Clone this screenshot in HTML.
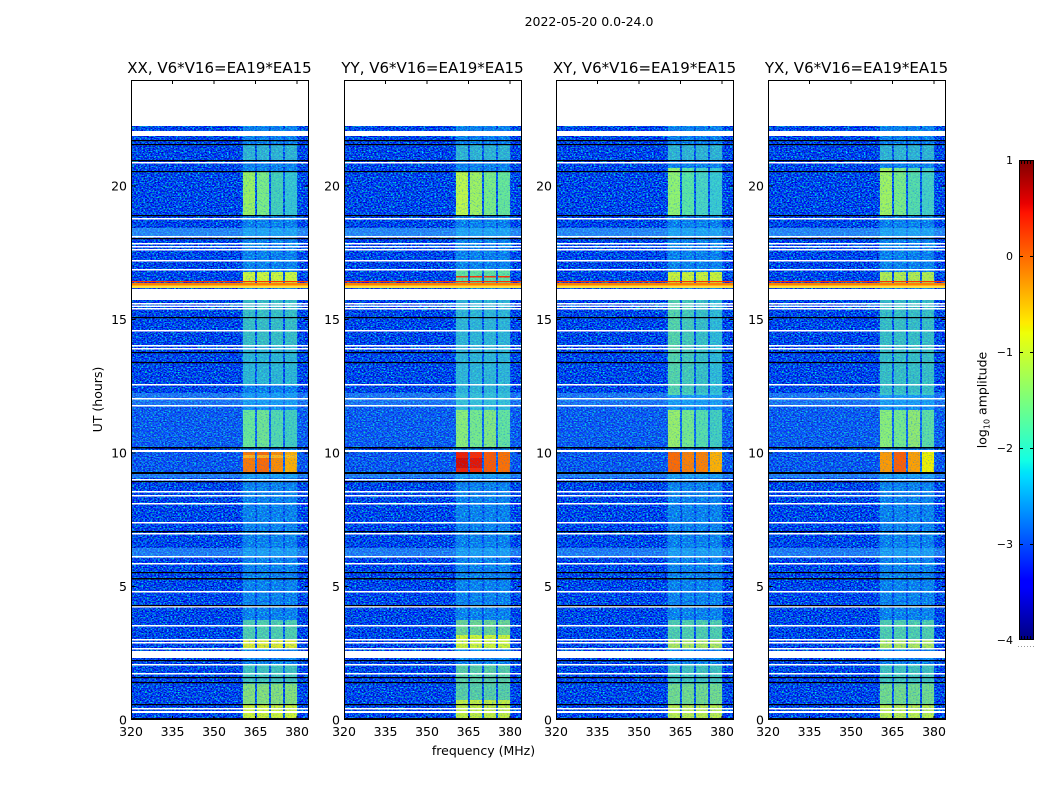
<!DOCTYPE html>
<html><head><meta charset="utf-8"><style>html,body{margin:0;padding:0;background:#fff;}svg{display:block;}</style></head>
<body>
<svg width="1050" height="800" viewBox="0 0 1050 800" xmlns="http://www.w3.org/2000/svg" xmlns:xlink="http://www.w3.org/1999/xlink" font-family="DejaVu Sans, Liberation Sans, sans-serif">
<defs>
<filter id="nz" x="0" y="0" width="1" height="1" color-interpolation-filters="sRGB">
<feTurbulence type="fractalNoise" baseFrequency="0.55 0.8" numOctaves="2" seed="7"/>
<feColorMatrix type="matrix" values="0 0 0 0 0  2.3 0 0 0 -0.88  0 1.5 0 0 0.2  0 0 0 0 1"/>
</filter>
<filter id="sp" x="0" y="0" width="1" height="1" color-interpolation-filters="sRGB">
<feTurbulence type="fractalNoise" baseFrequency="0.6 0.9" numOctaves="2" seed="19"/>
<feColorMatrix type="matrix" values="0 0 0 0 0  0 0 0 0 0.45  0 0 0 0 1  2.0 0 0 0 -1.05"/>
</filter>
<linearGradient id="jet" x1="0" y1="1" x2="0" y2="0">
<stop offset="0" stop-color="#00007f"/>
<stop offset="0.11" stop-color="#0000ff"/>
<stop offset="0.125" stop-color="#0000ff"/>
<stop offset="0.34" stop-color="#00dbff"/>
<stop offset="0.35" stop-color="#00e5f8"/>
<stop offset="0.375" stop-color="#14ffe3"/>
<stop offset="0.64" stop-color="#efff08"/>
<stop offset="0.65" stop-color="#f2f500"/>
<stop offset="0.66" stop-color="#ffec00"/>
<stop offset="0.89" stop-color="#ff1300"/>
<stop offset="0.91" stop-color="#e80000"/>
<stop offset="1" stop-color="#7f0000"/>
</linearGradient>
<g id="c4"><rect x="112" y="0" width="12" height="1"/><rect x="126" y="0" width="12" height="1"/><rect x="140" y="0" width="12" height="1"/><rect x="154" y="0" width="12" height="1"/></g>
<g id="base">
<rect x="1" y="126" width="176" height="594" fill="#0050ff" filter="url(#nz)"/>
<rect x="1" y="406" width="176" height="41" fill="#30a0ff" opacity=".25"/>
<rect x="1" y="452" width="176" height="20" fill="#30a0ff" opacity=".2"/>
<rect x="1" y="228" width="176" height="8" fill="#40b0ff" opacity=".6"/>
<rect x="1" y="393" width="176" height="12" fill="#40b0ff" opacity=".45"/>
<rect x="1" y="474" width="176" height="4" fill="#40b0ff" opacity=".5"/>
<rect x="1" y="548" width="176" height="8" fill="#40b0ff" opacity=".5"/>
<rect x="111" y="126" width="56" height="594" fill="#20b0ff" opacity=".15"/>
<use xlink:href="#c4" transform="translate(0,126) scale(1,594)" fill="#20e8f0" opacity=".3"/>
</g>
<g id="speck">
<rect x="111" y="126" width="56" height="594" fill="#000" filter="url(#sp)"/>
</g>
<g id="rows">
<g fill="#fff">
<rect x="1" y="131" width="176" height="5"/><rect x="1" y="162" width="176" height="1.5"/><rect x="1" y="218" width="176" height="1.5"/><rect x="1" y="236" width="176" height="1.5"/><rect x="1" y="243" width="176" height="1.5"/><rect x="1" y="246" width="176" height="1.5"/><rect x="1" y="249" width="176" height="1.5"/><rect x="1" y="260" width="176" height="1.5"/><rect x="1" y="269" width="176" height="1.5"/><rect x="1" y="289" width="176" height="11"/><rect x="1" y="303" width="176" height="1.5"/><rect x="1" y="305.5" width="176" height="1.5"/><rect x="1" y="308" width="176" height="1.5"/><rect x="1" y="330" width="176" height="1.5"/><rect x="1" y="345" width="176" height="1.5"/><rect x="1" y="348" width="176" height="1.5"/><rect x="1" y="384" width="176" height="1.5"/><rect x="1" y="398" width="176" height="1.5"/><rect x="1" y="405" width="176" height="1.5"/><rect x="1" y="450" width="176" height="2"/><rect x="1" y="479" width="176" height="1.5"/><rect x="1" y="491" width="176" height="1.5"/><rect x="1" y="495" width="176" height="1.5"/><rect x="1" y="503" width="176" height="1.5"/><rect x="1" y="522" width="176" height="1.5"/><rect x="1" y="533" width="176" height="1.5"/><rect x="1" y="556" width="176" height="1.5"/><rect x="1" y="563" width="176" height="1.5"/><rect x="1" y="591" width="176" height="1.5"/><rect x="1" y="606" width="176" height="1.5"/><rect x="1" y="625" width="176" height="1.5"/><rect x="1" y="639" width="176" height="1.5"/><rect x="1" y="642" width="176" height="1.5"/><rect x="1" y="648" width="176" height="1.5"/><rect x="1" y="651" width="176" height="7"/><rect x="1" y="664" width="176" height="1.5"/><rect x="1" y="673" width="176" height="1.5"/><rect x="1" y="708" width="176" height="1.5"/><rect x="1" y="711" width="176" height="2"/>
</g>
<g fill="#000">
<rect x="1" y="140" width="176" height="1.2"/><rect x="1" y="144" width="176" height="1.2"/><rect x="1" y="160" width="176" height="1.2"/><rect x="1" y="171" width="176" height="1.2"/><rect x="1" y="215" width="176" height="1.2"/><rect x="1" y="238" width="176" height="1.2"/><rect x="1" y="317" width="176" height="1.2"/><rect x="1" y="352" width="176" height="1.2"/><rect x="1" y="362" width="176" height="1.2"/><rect x="1" y="447" width="176" height="1.5"/><rect x="1" y="472" width="176" height="2"/><rect x="1" y="481" width="176" height="1.2"/><rect x="1" y="531" width="176" height="1.2"/><rect x="1" y="572" width="176" height="1.2"/><rect x="1" y="578" width="176" height="1.5"/><rect x="1" y="605" width="176" height="1.2"/><rect x="1" y="660" width="176" height="1.2"/><rect x="1" y="677" width="176" height="1.2"/><rect x="1" y="682" width="176" height="1.2"/><rect x="1" y="704" width="176" height="1.2"/><rect x="1" y="718" width="176" height="1.2"/>
</g>
<rect x="1" y="281" width="176" height="1.2" fill="#ff3000"/>
<rect x="1" y="283" width="176" height="2.5" fill="#ff8000"/>
<rect x="1" y="285.5" width="176" height="2.5" fill="#ffe040"/>
</g>
<g id="frame" fill="none" stroke="#000" stroke-width="1">
<rect x="0.5" y="80.5" width="177" height="639"/>
<path d="M0.5 186h4M0.5 319.5h4M0.5 453h4M0.5 586.5h4M173.5 186h4M173.5 319.5h4M173.5 453h4M173.5 586.5h4M41.5 720v-4M83 720v-4M124.5 720v-4M166 720v-4M41.5 80v4M83 80v4M124.5 80v4M166 80v4"/>
</g>
<g id="xl" font-size="12.5" text-anchor="middle" fill="#000">
<text x="0" y="736">320</text><text x="41.5" y="736">335</text><text x="83" y="736">350</text><text x="124.5" y="736">365</text><text x="166" y="736">380</text>
</g>
<g id="yl" font-size="12.5" text-anchor="end" fill="#000">
<text x="-4" y="190.5">20</text><text x="-4" y="324">15</text><text x="-4" y="457.5">10</text><text x="-4" y="591">5</text><text x="-4" y="724.5">0</text>
</g>
</defs>

<text x="589" y="26" font-size="12.5" text-anchor="middle">2022-05-20 0.0-24.0</text>

<!-- Panel 1 XX -->
<g transform="translate(131,0)">
<use xlink:href="#base"/>
<use xlink:href="#c4" transform="translate(0,145) scale(1,15)" fill="#60f0b0" opacity=".45"/>
<rect x="112" y="172" width="12" height="43" fill="#a8ff50" opacity=".9"/>
<rect x="126" y="172" width="12" height="43" fill="#90ff70" opacity=".85"/>
<rect x="140" y="172" width="12" height="43" fill="#60f0a0" opacity=".7"/>
<rect x="154" y="172" width="12" height="43" fill="#50e8c0" opacity=".65"/>
<use xlink:href="#c4" transform="translate(0,272) scale(1,11)" fill="#d8ff30" opacity=".95"/>
<use xlink:href="#c4" transform="translate(0,300) scale(1,45)" fill="#60f0a0" opacity=".55"/>
<use xlink:href="#c4" transform="translate(0,345) scale(1,40)" fill="#50e8b8" opacity=".5"/>
<rect x="112" y="410" width="12" height="37" fill="#80ff80" opacity=".8"/>
<rect x="126" y="410" width="12" height="37" fill="#90ff70" opacity=".75"/>
<rect x="140" y="410" width="12" height="37" fill="#70f890" opacity=".7"/>
<rect x="154" y="410" width="12" height="37" fill="#60f0a0" opacity=".65"/>
<rect x="112" y="452" width="12" height="20" fill="#ff7a00"/>
<rect x="126" y="452" width="12" height="20" fill="#ff6a00"/>
<rect x="140" y="452" width="12" height="20" fill="#ff8c00"/>
<rect x="154" y="452" width="12" height="20" fill="#ffae00"/>
<use xlink:href="#c4" transform="translate(0,455) scale(1,3)" fill="#ffc020" opacity=".8"/>
<use xlink:href="#c4" transform="translate(0,620) scale(1,20)" fill="#80ff80" opacity=".6"/>
<use xlink:href="#c4" transform="translate(0,640) scale(1,8)" fill="#e8f020" opacity=".95"/>
<use xlink:href="#c4" transform="translate(0,664) scale(1,20)" fill="#70f890" opacity=".55"/>
<use xlink:href="#c4" transform="translate(0,684) scale(1,20)" fill="#b0ff50" opacity=".75"/>
<use xlink:href="#c4" transform="translate(0,705) scale(1,13)" fill="#e0ff20" opacity=".9"/>
<use xlink:href="#speck"/>
<use xlink:href="#rows"/>
<use xlink:href="#frame"/>
<use xlink:href="#xl"/>
<use xlink:href="#yl"/>
<text x="88.5" y="73" font-size="15" text-anchor="middle">XX, V6*V16=EA19*EA15</text>
</g>

<!-- Panel 2 YY -->
<g transform="translate(344,0)">
<use xlink:href="#base"/>
<use xlink:href="#c4" transform="translate(0,145) scale(1,15)" fill="#60f0b0" opacity=".45"/>
<rect x="112" y="172" width="12" height="43" fill="#c8ff40" opacity=".95"/>
<rect x="126" y="172" width="12" height="43" fill="#b0ff50" opacity=".9"/>
<rect x="140" y="172" width="12" height="43" fill="#90ff70" opacity=".85"/>
<rect x="154" y="172" width="12" height="43" fill="#80ff80" opacity=".8"/>
<use xlink:href="#c4" transform="translate(0,270) scale(1,13)" fill="#80ff80" opacity=".75"/>
<use xlink:href="#c4" transform="translate(0,276) scale(1,1.5)" fill="#ff3000"/>
<use xlink:href="#c4" transform="translate(0,300) scale(1,110)" fill="#50e0c0" opacity=".55"/>
<rect x="112" y="410" width="12" height="37" fill="#a0ff60" opacity=".85"/>
<rect x="126" y="410" width="12" height="37" fill="#90ff70" opacity=".8"/>
<rect x="140" y="410" width="12" height="37" fill="#a0ff60" opacity=".8"/>
<rect x="154" y="410" width="12" height="37" fill="#80ff80" opacity=".75"/>
<rect x="112" y="452" width="12" height="20" fill="#f02000"/>
<rect x="126" y="452" width="12" height="20" fill="#ff2a00"/>
<rect x="140" y="452" width="12" height="20" fill="#ff5a00"/>
<rect x="154" y="452" width="12" height="20" fill="#ff7000"/>
<rect x="112" y="458" width="12" height="10" fill="#c00000" opacity=".6"/>
<rect x="126" y="458" width="12" height="10" fill="#d00000" opacity=".5"/>
<use xlink:href="#c4" transform="translate(0,620) scale(1,15)" fill="#a0ff60" opacity=".65"/>
<use xlink:href="#c4" transform="translate(0,635) scale(1,13)" fill="#e0ff20" opacity=".9"/>
<use xlink:href="#c4" transform="translate(0,664) scale(1,36)" fill="#90ff70" opacity=".6"/>
<use xlink:href="#c4" transform="translate(0,700) scale(1,18)" fill="#e0ff20" opacity=".85"/>
<use xlink:href="#speck"/>
<use xlink:href="#rows"/>
<use xlink:href="#frame"/>
<use xlink:href="#xl"/>
<use xlink:href="#yl"/>
<text x="88.5" y="73" font-size="15" text-anchor="middle">YY, V6*V16=EA19*EA15</text>
</g>

<!-- Panel 3 XY -->
<g transform="translate(556,0)">
<use xlink:href="#base"/>
<use xlink:href="#c4" transform="translate(0,145) scale(1,15)" fill="#60f0b0" opacity=".45"/>
<rect x="112" y="168" width="12" height="47" fill="#a0ff60" opacity=".9"/>
<rect x="126" y="168" width="12" height="47" fill="#70ff90" opacity=".8"/>
<rect x="140" y="168" width="12" height="47" fill="#60f0b0" opacity=".75"/>
<rect x="154" y="168" width="12" height="47" fill="#50e8c0" opacity=".7"/>
<use xlink:href="#c4" transform="translate(0,272) scale(1,11)" fill="#e0ff20" opacity=".9"/>
<rect x="112" y="300" width="12" height="95" fill="#80ff80" opacity=".65"/>
<rect x="126" y="300" width="12" height="95" fill="#70f890" opacity=".6"/>
<rect x="140" y="300" width="12" height="95" fill="#60f0a0" opacity=".55"/>
<rect x="154" y="300" width="12" height="95" fill="#50e8c0" opacity=".55"/>
<rect x="112" y="410" width="12" height="37" fill="#b0ff50" opacity=".85"/>
<rect x="126" y="410" width="12" height="37" fill="#90ff70" opacity=".8"/>
<rect x="140" y="410" width="12" height="37" fill="#70f890" opacity=".75"/>
<rect x="154" y="410" width="12" height="37" fill="#60f0a0" opacity=".65"/>
<rect x="112" y="452" width="12" height="20" fill="#ff6a00"/>
<rect x="126" y="452" width="12" height="20" fill="#ff8000"/>
<rect x="140" y="452" width="12" height="20" fill="#ff8000"/>
<rect x="154" y="452" width="12" height="20" fill="#ffb000"/>
<use xlink:href="#c4" transform="translate(0,620) scale(1,20)" fill="#80ff80" opacity=".6"/>
<use xlink:href="#c4" transform="translate(0,640) scale(1,8)" fill="#c8f840" opacity=".85"/>
<use xlink:href="#c4" transform="translate(0,664) scale(1,20)" fill="#70f890" opacity=".55"/>
<use xlink:href="#c4" transform="translate(0,684) scale(1,20)" fill="#a0ff60" opacity=".7"/>
<use xlink:href="#c4" transform="translate(0,705) scale(1,13)" fill="#d8ff30" opacity=".85"/>
<use xlink:href="#speck"/>
<use xlink:href="#rows"/>
<use xlink:href="#frame"/>
<use xlink:href="#xl"/>
<use xlink:href="#yl"/>
<text x="88.5" y="73" font-size="15" text-anchor="middle">XY, V6*V16=EA19*EA15</text>
</g>

<!-- Panel 4 YX -->
<g transform="translate(768,0)">
<use xlink:href="#base"/>
<use xlink:href="#c4" transform="translate(0,145) scale(1,15)" fill="#60f0b0" opacity=".45"/>
<rect x="112" y="168" width="12" height="47" fill="#b0ff50" opacity=".9"/>
<rect x="126" y="168" width="12" height="47" fill="#90ff70" opacity=".85"/>
<rect x="140" y="168" width="12" height="47" fill="#70f890" opacity=".75"/>
<rect x="154" y="168" width="12" height="47" fill="#60f0b0" opacity=".7"/>
<use xlink:href="#c4" transform="translate(0,272) scale(1,11)" fill="#d0ff30" opacity=".85"/>
<use xlink:href="#c4" transform="translate(0,300) scale(1,95)" fill="#60f0a0" opacity=".55"/>
<rect x="112" y="410" width="12" height="37" fill="#a0ff60" opacity=".85"/>
<rect x="126" y="410" width="12" height="37" fill="#90ff70" opacity=".8"/>
<rect x="140" y="410" width="12" height="37" fill="#b0ff50" opacity=".8"/>
<rect x="154" y="410" width="12" height="37" fill="#80ff80" opacity=".7"/>
<rect x="112" y="452" width="12" height="20" fill="#ff9a00"/>
<rect x="126" y="452" width="12" height="20" fill="#ff6000"/>
<rect x="140" y="452" width="12" height="20" fill="#ffa000"/>
<rect x="154" y="452" width="12" height="20" fill="#f0f000"/>
<use xlink:href="#c4" transform="translate(0,620) scale(1,20)" fill="#80ff80" opacity=".6"/>
<use xlink:href="#c4" transform="translate(0,640) scale(1,8)" fill="#c8f840" opacity=".85"/>
<use xlink:href="#c4" transform="translate(0,664) scale(1,20)" fill="#70f890" opacity=".55"/>
<use xlink:href="#c4" transform="translate(0,684) scale(1,20)" fill="#a0ff60" opacity=".7"/>
<use xlink:href="#c4" transform="translate(0,705) scale(1,13)" fill="#d8ff30" opacity=".85"/>
<use xlink:href="#speck"/>
<use xlink:href="#rows"/>
<use xlink:href="#frame"/>
<use xlink:href="#xl"/>
<use xlink:href="#yl"/>
<text x="88.5" y="73" font-size="15" text-anchor="middle">YX, V6*V16=EA19*EA15</text>
</g>

<text transform="translate(102,399.5) rotate(-90)" font-size="12.5" text-anchor="middle">UT (hours)</text>
<text x="483.5" y="755" font-size="12.5" text-anchor="middle">frequency (MHz)</text>

<!-- Colorbar -->
<rect x="1019" y="160" width="15" height="480" fill="url(#jet)"/>
<rect x="1019.5" y="160.5" width="14" height="479" fill="none" stroke="#000" stroke-width="1"/>
<path d="M1019 256.5h4M1019 352.5h4M1019 448.5h4M1019 544.5h4M1030 256.5h4M1030 352.5h4M1030 448.5h4M1030 544.5h4M1021.5 160v4M1024.5 160v4M1027.5 160v4M1030.5 160v4M1021.5 640v-4M1024.5 640v-4M1027.5 640v-4M1030.5 640v-4" stroke="#000" stroke-width="1" fill="none"/>
<path d="M1018 646.5h16" stroke="#999" stroke-width="1" stroke-dasharray="1,2"/>
<g font-size="11" text-anchor="end">
<text x="1013" y="164">1</text>
<text x="1013" y="260">0</text>
<text x="1013" y="356">−1</text>
<text x="1013" y="452">−2</text>
<text x="1013" y="548">−3</text>
<text x="1013" y="644">−4</text>
</g>
<text transform="translate(986.5,400) rotate(-90)" font-size="12.5" text-anchor="middle">log<tspan font-size="8" dy="3">10</tspan><tspan dy="-3"> amplitude</tspan></text>
</svg>
</body></html>
